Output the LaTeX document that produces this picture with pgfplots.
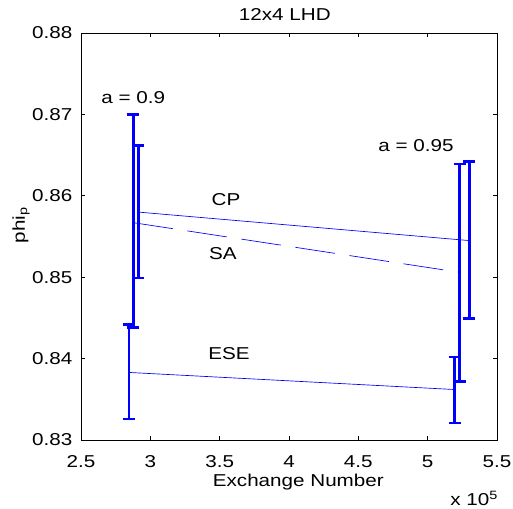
\documentclass[border=0pt]{standalone}
\usepackage{fontspec}
\setmainfont{Liberation Sans}[FakeStretch=1.2]
\usepackage{pgfplots}
\pgfplotsset{compat=1.18}
\definecolor{mblue}{RGB}{0,0,255}
\begin{document}
\begin{tikzpicture}[font=\fontsize{12.9}{15}\selectfont]
\useasboundingbox (-60.75pt,-51pt) rectangle (324pt,330pt);
\begin{axis}[
  at={(0,0)}, anchor=south west,
  scale only axis, width=312pt, height=305.25pt,
  xmin=250000, xmax=550000, ymin=0.83, ymax=0.88,
  xtick={250000,300000,350000,400000,450000,500000,550000},
  ytick={0.83,0.84,0.85,0.86,0.87,0.88},
  scaled x ticks=base 10:-5,
  xtick scale label code/.code={x 10\textsuperscript{5}},
  every x tick scale label/.style={at={(axis description cs:1,0)}, anchor=base east, yshift=-41pt, xshift=1pt, inner sep=0pt},
  yticklabel style={xshift=-3pt, /pgf/number format/.cd, fixed, fixed zerofill, precision=2},
  xticklabel style={yshift=-8pt},
  /pgf/number format/assume math mode=true,
  tick align=inside, major tick length=3pt,
  axis line style={line width=0.6pt},
  tick style={line width=0.5pt, black},
  title={12x4 LHD},
  title style={at={(axis description cs:0.49,1)}, anchor=base, yshift=3.2pt},
  xlabel={Exchange Number}, ylabel={phi\textsubscript{p}},
  xlabel style={at={(axis description cs:0.5,0)}, anchor=base, yshift=-35pt, xshift=7pt},
  ylabel style={at={(axis description cs:-0.135,0.528)}, anchor=base},
  clip=false,
  error bars/y dir=both, error bars/y explicit,
  error bars/error mark=|,
  error bars/error mark options={solid, mblue, line width=2pt, mark size=4.5pt},
  error bars/error bar style={solid, mblue, line width=2pt},
]
% CP
\addplot[mblue, line width=0.5pt, mark=none] coordinates {
  (291300,0.8580) += (0,0.0082) -= (0,0.0081)
  (530000,0.8545) += (0,0.0097) -= (0,0.0096)
};
% SA
\addplot[mblue, line width=0.5pt, mark=none, dash pattern=on 30pt off 11pt] coordinates {
  (287700,0.8567) += (0,0.0133) -= (0,0.0129)
  (523100,0.8506) += (0,0.0133) -= (0,0.0134)
};
% ESE
\addplot[mblue, line width=0.5pt, mark=none] coordinates {
  (284600,0.8383) += (0,0.0059) -= (0,0.0057)
  (519500,0.8362) += (0,0.0040) -= (0,0.0041)
};
\node[anchor=base] at (axis cs:287700,0.8713) {a = 0.9};
\node[anchor=base] at (axis cs:491600,0.8655) {a = 0.95};
\node[anchor=base] at (axis cs:354600,0.8588) {CP};
\node[anchor=base] at (axis cs:352400,0.8522) {SA};
\node[anchor=base] at (axis cs:356700,0.8399) {ESE};
\end{axis}
\end{tikzpicture}
\end{document}
